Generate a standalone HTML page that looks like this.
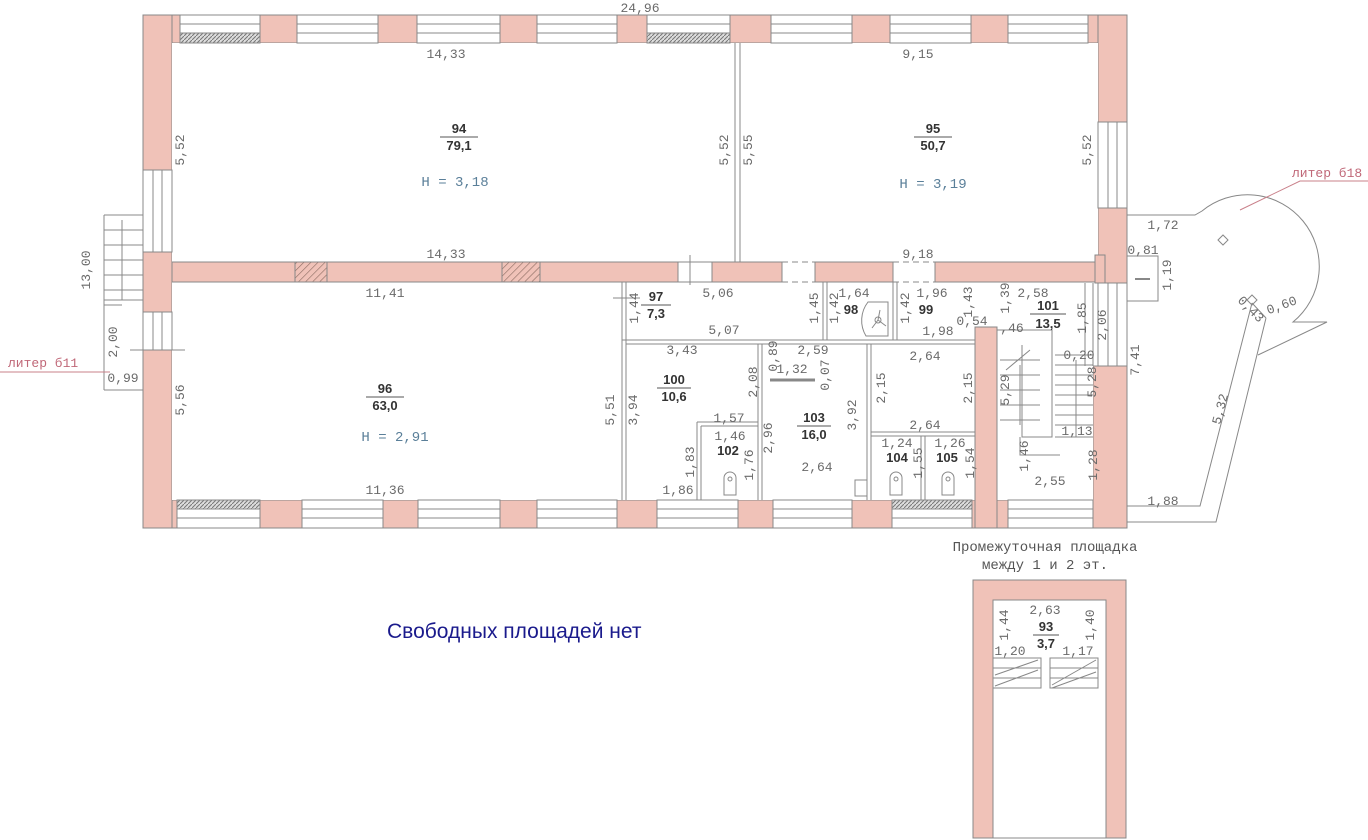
<!DOCTYPE html>
<html><head><meta charset="utf-8"><style>
body{margin:0;background:#fff;}
svg{display:block}
.d{font-family:"Liberation Mono",monospace;font-size:13px;fill:#6a6a6a;}
.n{font-family:"Liberation Sans",sans-serif;font-size:13px;font-weight:bold;fill:#333;}
.h{font-family:"Liberation Mono",monospace;font-size:14px;fill:#5a7f99;}
.p{fill:#f0c2b8;stroke:#888;stroke-width:1}
.w{fill:#fff;stroke:#888;stroke-width:1}
.l{stroke:#888;stroke-width:1;fill:none}
</style></head><body>
<svg width="1368" height="840" viewBox="0 0 1368 840" xmlns="http://www.w3.org/2000/svg">
<defs>
<pattern id="hat" width="4" height="4" patternUnits="userSpaceOnUse"><rect width="4" height="4" fill="#ddd"/><path d="M0 4L4 0" stroke="#777" stroke-width="1"/></pattern>
<pattern id="hat2" width="5" height="5" patternUnits="userSpaceOnUse" patternTransform="rotate(45)"><rect width="5" height="5" fill="#f0c2b8"/><line x1="0" y1="0" x2="0" y2="5" stroke="#8a6a60" stroke-width="1.2"/></pattern>
</defs>
<rect class="p" x="143" y="15" width="984" height="28"/>
<rect class="p" x="143" y="500" width="984" height="28"/>
<rect class="p" x="143" y="15" width="29" height="513"/>
<rect class="p" x="1098" y="15" width="29" height="268"/>
<rect class="p" x="1093" y="366" width="34" height="162"/>
<rect fill="#fff" x="172" y="43" width="926" height="219"/>
<rect fill="#fff" x="172" y="282" width="921" height="218"/>
<g>
<rect class="w" x="180" y="15" width="80" height="28"/><line class="l" x1="180" y1="24" x2="260" y2="24"/><rect x="180" y="33" width="80" height="10" fill="url(#hat)" stroke="#888"/>
<rect class="w" x="297" y="15" width="81" height="28"/><line class="l" x1="297" y1="24" x2="378" y2="24"/><line class="l" x1="297" y1="33" x2="378" y2="33"/>
<rect class="w" x="417" y="15" width="83" height="28"/><line class="l" x1="417" y1="24" x2="500" y2="24"/><line class="l" x1="417" y1="33" x2="500" y2="33"/>
<rect class="w" x="537" y="15" width="80" height="28"/><line class="l" x1="537" y1="24" x2="617" y2="24"/><line class="l" x1="537" y1="33" x2="617" y2="33"/>
<rect class="w" x="647" y="15" width="83" height="28"/><line class="l" x1="647" y1="24" x2="730" y2="24"/><rect x="647" y="33" width="83" height="10" fill="url(#hat)" stroke="#888"/>
<rect class="w" x="771" y="15" width="81" height="28"/><line class="l" x1="771" y1="24" x2="852" y2="24"/><line class="l" x1="771" y1="33" x2="852" y2="33"/>
<rect class="w" x="890" y="15" width="81" height="28"/><line class="l" x1="890" y1="24" x2="971" y2="24"/><line class="l" x1="890" y1="33" x2="971" y2="33"/>
<rect class="w" x="1008" y="15" width="80" height="28"/><line class="l" x1="1008" y1="24" x2="1088" y2="24"/><line class="l" x1="1008" y1="33" x2="1088" y2="33"/>
</g>
<g>
<rect class="w" x="177" y="500" width="83" height="28"/><rect x="177" y="500" width="83" height="9" fill="url(#hat)" stroke="#888"/><line class="l" x1="177" y1="518" x2="260" y2="518"/>
<rect class="w" x="302" y="500" width="81" height="28"/><line class="l" x1="302" y1="509" x2="383" y2="509"/><line class="l" x1="302" y1="518" x2="383" y2="518"/>
<rect class="w" x="418" y="500" width="82" height="28"/><line class="l" x1="418" y1="509" x2="500" y2="509"/><line class="l" x1="418" y1="518" x2="500" y2="518"/>
<rect class="w" x="537" y="500" width="80" height="28"/><line class="l" x1="537" y1="509" x2="617" y2="509"/><line class="l" x1="537" y1="518" x2="617" y2="518"/>
<rect class="w" x="657" y="500" width="81" height="28"/><line class="l" x1="657" y1="509" x2="738" y2="509"/><line class="l" x1="657" y1="518" x2="738" y2="518"/>
<rect class="w" x="773" y="500" width="79" height="28"/><line class="l" x1="773" y1="509" x2="852" y2="509"/><line class="l" x1="773" y1="518" x2="852" y2="518"/>
<rect class="w" x="892" y="500" width="80" height="28"/><rect x="892" y="500" width="80" height="9" fill="url(#hat)" stroke="#888"/><line class="l" x1="892" y1="518" x2="972" y2="518"/>
<rect class="w" x="1008" y="500" width="85" height="28"/><line class="l" x1="1008" y1="509" x2="1093" y2="509"/><line class="l" x1="1008" y1="518" x2="1093" y2="518"/>
</g>
<rect class="w" x="143" y="170" width="29" height="82"/><line class="l" x1="153" y1="170" x2="153" y2="252"/><line class="l" x1="162" y1="170" x2="162" y2="252"/>
<rect class="w" x="143" y="312" width="29" height="38"/><line class="l" x1="153" y1="312" x2="153" y2="350"/><line class="l" x1="162" y1="312" x2="162" y2="350"/>
<rect class="w" x="1098" y="122" width="29" height="86"/><line class="l" x1="1108" y1="122" x2="1108" y2="208"/><line class="l" x1="1117" y1="122" x2="1117" y2="208"/>
<rect class="w" x="1098" y="283" width="29" height="83"/><line class="l" x1="1108" y1="283" x2="1108" y2="366"/><line class="l" x1="1117" y1="283" x2="1117" y2="366"/>
<rect class="p" x="172" y="262" width="506" height="20"/>
<rect x="295" y="262" width="32" height="20" fill="url(#hat2)" stroke="#888"/>
<rect x="502" y="262" width="38" height="20" fill="url(#hat2)" stroke="#888"/>
<rect class="w" x="678" y="262" width="34" height="20"/><line class="l" x1="690" y1="255" x2="690" y2="285"/>
<rect class="p" x="712" y="262" width="70" height="20"/>
<path d="M782 262H815M782 282H815M893 262H935M893 282H935" stroke="#888" stroke-dasharray="6,4"/>
<rect class="p" x="815" y="262" width="78" height="20"/>
<rect class="p" x="935" y="262" width="163" height="20"/>
<rect class="p" x="1095" y="255" width="10" height="28" stroke="none"/>
<rect class="p" x="975" y="327" width="22" height="201"/>
<line class="l" x1="735" y1="43" x2="735" y2="262"/><line class="l" x1="740" y1="43" x2="740" y2="262"/>
<g class="l">
<path d="M622 282V500M626 282V500"/>
<path d="M622 340H975M626 344H975"/>
<path d="M823 282V340M827 282V340M893 282V340M897 282V340"/>
<path d="M758 344V500M762 344V500"/>
<path d="M867 344V500M871 344V500"/>
<path d="M871 432H975M871 436H975"/>
<path d="M921 436V500M925 436V500"/>
<path d="M697 422H758V500M701 426H758M697 422V500M701 426V500"/>
<path d="M770 380H815" stroke-width="3"/>
<path d="M613 298H640"/>
</g>
<path d="M868 302 A30 30 0 0 0 866 336 H888 V302Z" class="l"/>
<circle cx="878" cy="320" r="3" class="l"/><path class="l" d="M878 320L872 328M878 320L886 326M878 320L880 310"/>
<g class="l"><path d="M724 495V478a6 6 0 0 1 12 0V495Z"/><circle cx="730" cy="479" r="2"/>
<path d="M890 495V478a6 6 0 0 1 12 0V495Z"/><circle cx="896" cy="479" r="2"/>
<path d="M942 495V478a6 6 0 0 1 12 0V495Z"/><circle cx="948" cy="479" r="2"/>
<rect x="855" y="480" width="12" height="16"/></g>
<g class="l">
<path d="M997 330H1052V437H1022V345M1006 370L1030 350M1020 437V455H1060"/>
<path d="M1000 360H1040M1000 375H1040M1000 390H1040M1000 405H1040M1000 420H1040"/>
<path d="M1055 355H1093M1055 365H1093M1055 375H1093M1055 385H1093M1055 395H1093M1055 405H1093M1055 415H1093M1055 425H1093M1055 437H1093"/>
<path d="M1020 365V425M1076 360V437"/>
<path d="M1093 283V366M1085 283V366"/>
</g>
<g class="l">
<path d="M104 215V390M104 215H143M104 300H143"/>
<path d="M104 230H143M104 245H143M104 260H143M104 275H143M104 290H143"/>
<path d="M122 220V300"/><path d="M104 305L122 305"/>
<path d="M130 350H185M104 390H143"/>
</g>
<g class="l">
<path d="M1127 215H1195L1202 211A62 62 0 0 1 1293 322L1327 322L1258 355"/>
<path d="M1252 303L1200 506H1127M1266 318L1216 522H1127M1252 303L1266 318"/>
<rect x="1127" y="256" width="31" height="45"/><path d="M1135 279H1150" stroke-width="2"/>
<path d="M1218 240l5 -5 5 5 -5 5z M1247 300l5 -5 5 5 -5 5z"/>
<path d="M1240 210L1300 181H1368" stroke="#c9808a"/>
</g>
<line x1="0" y1="372" x2="110" y2="372" stroke="#c9808a"/>
<rect class="p" x="973" y="580" width="153" height="258"/>
<rect fill="#fff" stroke="#888" x="993" y="600" width="113" height="238"/>
<g class="l"><rect x="993" y="658" width="48" height="30"/><rect x="1050" y="658" width="48" height="30"/>
<path d="M993 668H1041M993 678H1041M1050 668H1098M1050 678H1098M995 675L1038 660M995 686L1038 670M1052 685L1096 660M1052 688L1096 672"/></g>
<g class="d" text-anchor="middle">
<text x="640" y="12">24,96</text>
<text x="446" y="58">14,33</text><text x="918" y="58">9,15</text>
<text x="446" y="258">14,33</text><text x="918" y="258">9,18</text>
<text x="385" y="297">11,41</text><text x="718" y="297">5,06</text><text x="854" y="297">1,64</text><text x="932" y="297">1,96</text><text x="1033" y="297">2,58</text>
<text x="724" y="334">5,07</text><text x="938" y="335">1,98</text><text x="972" y="325">0,54</text><text x="1012" y="332">,46</text>
<text x="682" y="354">3,43</text><text x="813" y="354">2,59</text><text x="792" y="373">1,32</text>
<text x="925" y="360">2,64</text><text x="925" y="429">2,64</text>
<text x="729" y="422">1,57</text><text x="730" y="440">1,46</text><text x="817" y="471">2,64</text>
<text x="897" y="447">1,24</text><text x="950" y="447">1,26</text>
<text x="678" y="494">1,86</text><text x="385" y="494">11,36</text>
<text x="1163" y="229">1,72</text><text x="1143" y="254">0,81</text>
<text x="1079" y="359">0,20</text><text x="1077" y="435">1,13</text><text x="1050" y="485">2,55</text>
<text x="1163" y="505">1,88</text><text x="123" y="382">0,99</text>
<text x="1045" y="614">2,63</text><text x="1010" y="655">1,20</text><text x="1078" y="655">1,17</text>
<text x="1283" y="309" transform="rotate(-20 1283 309)">0,60</text>
<text x="1248" y="312" transform="rotate(45 1248 312)">0,43</text>
<text x="1224" y="410" transform="rotate(-75 1224 410)">5,32</text>
</g>
<g class="d" text-anchor="middle">
<text transform="translate(184,150) rotate(-90)">5,52</text>
<text transform="translate(728,150) rotate(-90)">5,52</text>
<text transform="translate(752,150) rotate(-90)">5,55</text>
<text transform="translate(1091,150) rotate(-90)">5,52</text>
<text transform="translate(90,270) rotate(-90)">13,00</text>
<text transform="translate(117,342) rotate(-90)">2,00</text>
<text transform="translate(184,400) rotate(-90)">5,56</text>
<text transform="translate(614,410) rotate(-90)">5,51</text>
<text transform="translate(637,410) rotate(-90)">3,94</text>
<text transform="translate(638,308) rotate(-90)">1,44</text>
<text transform="translate(818,308) rotate(-90)">1,45</text>
<text transform="translate(838,308) rotate(-90)">1,42</text>
<text transform="translate(909,308) rotate(-90)">1,42</text>
<text transform="translate(972,302) rotate(-90)">1,43</text>
<text transform="translate(1009,298) rotate(-90)">1,39</text>
<text transform="translate(1086,318) rotate(-90)">1,85</text>
<text transform="translate(1106,325) rotate(-90)">2,06</text>
<text transform="translate(1171,275) rotate(-90)">1,19</text>
<text transform="translate(1139,360) rotate(-90)">7,41</text>
<text transform="translate(777,356) rotate(-90)">0,89</text>
<text transform="translate(757,382) rotate(-90)">2,08</text>
<text transform="translate(829,375) rotate(-90)">0,07</text>
<text transform="translate(772,438) rotate(-90)">2,96</text>
<text transform="translate(856,415) rotate(-90)">3,92</text>
<text transform="translate(885,388) rotate(-90)">2,15</text>
<text transform="translate(972,388) rotate(-90)">2,15</text>
<text transform="translate(694,462) rotate(-90)">1,83</text>
<text transform="translate(753,465) rotate(-90)">1,76</text>
<text transform="translate(922,463) rotate(-90)">1,55</text>
<text transform="translate(974,463) rotate(-90)">1,54</text>
<text transform="translate(1009,390) rotate(-90)">5,29</text>
<text transform="translate(1096,382) rotate(-90)">5,28</text>
<text transform="translate(1028,456) rotate(-90)">1,46</text>
<text transform="translate(1097,465) rotate(-90)">1,28</text>
<text transform="translate(1008,625) rotate(-90)">1,44</text>
<text transform="translate(1094,625) rotate(-90)">1,40</text>
</g>
<g class="n" text-anchor="middle">
<text x="459" y="133">94</text><line x1="440" y1="137" x2="478" y2="137" stroke="#555"/><text x="459" y="150">79,1</text>
<text x="933" y="133">95</text><line x1="914" y1="137" x2="952" y2="137" stroke="#555"/><text x="933" y="150">50,7</text>
<text x="385" y="393">96</text><line x1="366" y1="397" x2="404" y2="397" stroke="#555"/><text x="385" y="410">63,0</text>
<text x="656" y="301">97</text><line x1="641" y1="305" x2="671" y2="305" stroke="#555"/><text x="656" y="318">7,3</text>
<text x="851" y="314">98</text><text x="926" y="314">99</text>
<text x="1048" y="310">101</text><line x1="1030" y1="314" x2="1066" y2="314" stroke="#555"/><text x="1048" y="328">13,5</text>
<text x="674" y="384">100</text><line x1="657" y1="388" x2="691" y2="388" stroke="#555"/><text x="674" y="401">10,6</text>
<text x="814" y="422">103</text><line x1="797" y1="426" x2="831" y2="426" stroke="#555"/><text x="814" y="439">16,0</text>
<text x="728" y="455">102</text><text x="897" y="462">104</text><text x="947" y="462">105</text>
<text x="1046" y="631">93</text><line x1="1033" y1="635" x2="1059" y2="635" stroke="#555"/><text x="1046" y="648">3,7</text>
</g>
<g class="h" text-anchor="middle">
<text x="455" y="186">H = 3,18</text><text x="933" y="188">H = 3,19</text><text x="395" y="441">H = 2,91</text>
</g>
<g font-family="'Liberation Mono',monospace" font-size="13" fill="#c06878">
<text x="1292" y="177">литер б18</text><text x="8" y="367">литер б11</text>
</g>
<g font-family="'Liberation Mono',monospace" font-size="14" fill="#555" text-anchor="middle">
<text x="1045" y="551">Промежуточная площадка</text><text x="1045" y="569">между 1 и 2 эт.</text>
</g>
<text x="387" y="638" font-family="'Liberation Sans',sans-serif" font-size="21" fill="#1a1a8c">Свободных площадей нет</text>
</svg>
</body></html>
